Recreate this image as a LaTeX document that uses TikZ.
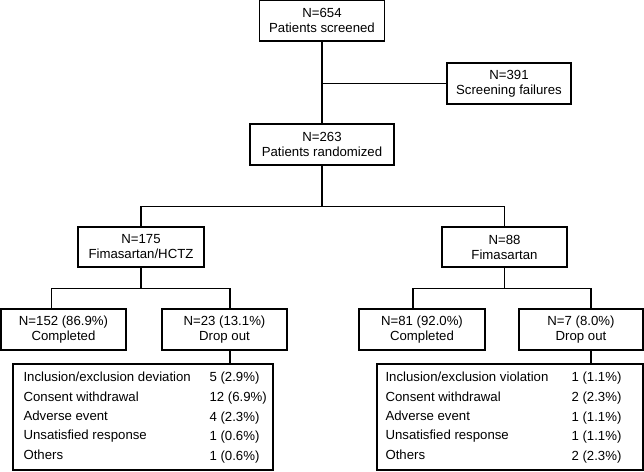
\documentclass[tikz,border=0pt]{standalone}
\usepackage{fontspec}
\setmainfont{Liberation Sans}
\begin{document}
\begin{tikzpicture}[x=1pt, y=-1pt, line width=1.1pt,
	box/.style={draw, inner sep=0pt, minimum height=41pt, align=center, font=\fontsize{13.2}{15}\selectfont},
	tabbox/.style={draw, inner sep=0pt, minimum height=106pt},
	row/.style={anchor=west, inner sep=0pt, text height=9.5pt, text depth=3pt, font=\fontsize{13.2}{15}\selectfont}]
	\useasboundingbox (0,0) rectangle (644,471);
	% boxes
	\node[box, minimum width=125pt] (screen) at (322,20.5)   {N=654\\Patients screened};
	\node[box, minimum width=124pt] (fail)   at (509,83.5)   {N=391\\Screening failures};
	\node[box, minimum width=144pt] (rand)   at (322,144.5)  {N=263\\Patients randomized};
	\node[box, minimum width=126pt, minimum height=40pt] (grpA) at (141,247)   {N=175\\Fimasartan/HCTZ};
	\node[box, minimum width=125pt, minimum height=40pt] (grpB) at (504.5,247) {N=88\\Fimasartan};
	\node[box, minimum width=125pt] (compA)  at (63.5,329.5)  {N=152 (86.9\%)\\Completed};
	\node[box, minimum width=125pt] (dropA)  at (224.5,329.5) {N=23 (13.1\%)\\Drop out};
	\node[box, minimum width=126pt] (compB)  at (422,329.5)   {N=81 (92.0\%)\\Completed};
	\node[box, minimum width=124pt] (dropB)  at (581,329.5)   {N=7 (8.0\%)\\Drop out};
	% drop out reasons
	\node[tabbox, minimum width=260pt] (tabA) at (143,417) {};
	\node[row] (rA1) at (23,378)  {Inclusion/exclusion deviation};
	\node[row] (rA2) at (23,398)  {Consent withdrawal};
	\node[row] (rA3) at (23,417)  {Adverse event};
	\node[row] (rA4) at (23,436.5){Unsatisfied response};
	\node[row] (rA5) at (23,456)  {Others};
	\node[row] (vA1) at (209,378)  {5 (2.9\%)};
	\node[row] (vA2) at (209,398)  {12 (6.9\%)};
	\node[row] (vA3) at (209,418)  {4 (2.3\%)};
	\node[row] (vA4) at (209,437)  {1 (0.6\%)};
	\node[row] (vA5) at (209,457)  {1 (0.6\%)};
	\node[tabbox, minimum width=266pt] (tabB) at (510,417) {};
	\node[row] (rB1) at (385,378)  {Inclusion/exclusion violation};
	\node[row] (rB2) at (385,398)  {Consent withdrawal};
	\node[row] (rB3) at (385,417)  {Adverse event};
	\node[row] (rB4) at (385,436.5){Unsatisfied response};
	\node[row] (rB5) at (385,456)  {Others};
	\node[row] (vB1) at (571,378)  {1 (1.1\%)};
	\node[row] (vB2) at (571,398)  {2 (2.3\%)};
	\node[row] (vB3) at (571,418)  {1 (1.1\%)};
	\node[row] (vB4) at (571,437)  {1 (1.1\%)};
	\node[row] (vB5) at (571,457)  {2 (2.3\%)};
	% connectors
	\draw (screen.south) -- (rand.north);
	\draw (screen.south |- fail.west) -- (fail.west);
	\draw (rand.south) -- ++(0,41) coordinate (sRand);
	\draw (grpA.north) |- (sRand) -| (grpB.north);
	\draw (grpA.south) -- ++(0,21) coordinate (sA);
	\draw ([xshift=-12pt]compA.north) |- (sA) -| ([xshift=5.5pt]dropA.north);
	\draw ([xshift=5.5pt]dropA.south) -- ([xshift=5.5pt]dropA.south |- tabA.north);
	\draw (grpB.south) -- ++(0,21) coordinate (sB);
	\draw ([xshift=-9pt]compB.north) |- (sB) -| ([xshift=10pt]dropB.north);
	\draw ([xshift=10pt]dropB.south) -- ([xshift=10pt]dropB.south |- tabB.north);
\end{tikzpicture}
\end{document}
